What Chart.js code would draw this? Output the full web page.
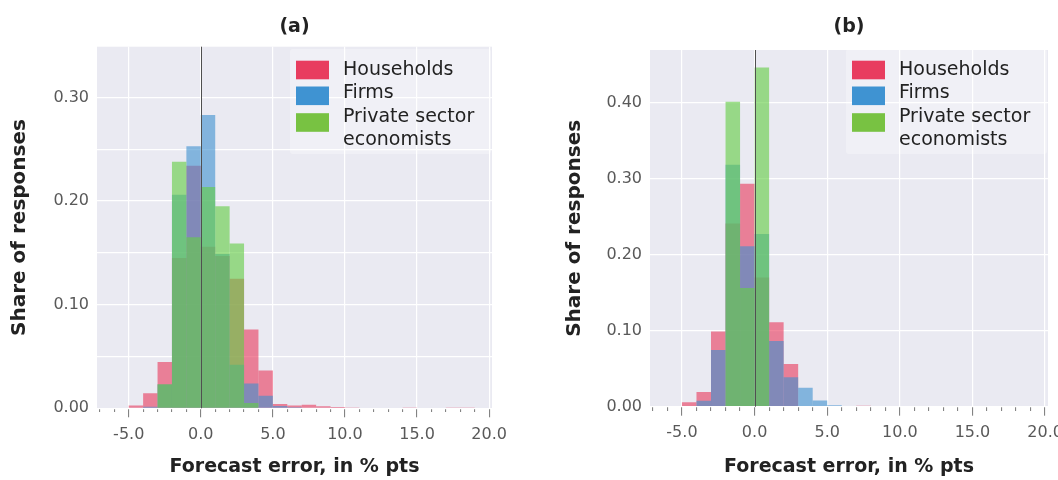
<!DOCTYPE html>
<html>
<head>
<meta charset="utf-8">
<title>Forecast errors</title>
<script src="https://cdn.jsdelivr.net/npm/chart.js@4.4.1/dist/chart.umd.min.js"></script>
<style>
  html, body { margin: 0; padding: 0; background: #fff; }
  #wrap { position: relative; width: 1058px; height: 480px; }
  .panel { position: absolute; top: 0; width: 529px; height: 480px; }
</style>
</head>
<body>
<div id="wrap">
  <div class="panel" style="left:0"><canvas id="chartA" width="529" height="480"></canvas></div>
  <div class="panel" style="left:529px"><canvas id="chartB" width="529" height="480"></canvas></div>
</div>
<script>
// Histogram bins are one point wide; each value is the share of responses in [start, start + 1)
const binStarts = [-5, -4, -3, -2, -1, 0, 1, 2, 3, 4, 5, 6, 7, 8, 9, 10, 11, 12, 13, 14, 15, 16, 17, 18];

const seriesNames = ["Households", "Firms", "Private sector economists"];

// panel (a)
const householdsA = [0.0026, 0.0145, 0.0446, 0.145, 0.234, 0.156, 0.147, 0.125, 0.076, 0.0365, 0.0042, 0.0026,
                     0.0035, 0.002, 0.0013, 0.0008, 0, 0, 0, 0.0008, 0, 0, 0.0008, 0.0008];
const firmsA = [0, 0.0016, 0.023, 0.206, 0.253, 0.283, 0.149, 0.042, 0.024, 0.012, 0.0023, 0.001,
                0, 0, 0, 0, 0, 0, 0, 0, 0, 0, 0, 0];
const economistsA = [0, 0, 0.0233, 0.238, 0.165, 0.2135, 0.195, 0.159, 0.005, 0, 0, 0,
                     0, 0, 0, 0, 0, 0, 0, 0, 0, 0, 0, 0];

// panel (b)
const householdsB = [0.0057, 0.0193, 0.0988, 0.241, 0.293, 0.170, 0.111, 0.056, 0, 0, 0, 0,
                     0.0013, 0, 0, 0, 0, 0, 0, 0, 0, 0, 0, 0];
const firmsB = [0, 0.0079, 0.0746, 0.318, 0.211, 0.227, 0.0865, 0.0386, 0.025, 0.0083, 0.0018, 0,
                0, 0, 0, 0, 0, 0, 0, 0, 0, 0, 0, 0];
const economistsB = [0, 0, 0, 0.401, 0.156, 0.446, 0, 0, 0, 0, 0, 0,
                     0, 0, 0, 0, 0, 0, 0, 0, 0, 0, 0, 0];

const xMajorEvery = 5;
const zeroError = 0;

Chart.defaults.font.family = "'DejaVu Sans', sans-serif";

const fills = ["rgba(232, 55, 90, 0.6)", "rgba(60, 143, 207, 0.6)", "rgba(100, 205, 70, 0.62)"];
const swatches = ["#e83d5f", "#3f93d2", "#78c242"];

// plot background, zero line and the legend in the upper right corner
const panelDecor = {
  id: "panelDecor",
  beforeDraw(chart) {
    const { ctx, chartArea: a } = chart;
    ctx.save();
    ctx.fillStyle = "#eaeaf2";
    ctx.fillRect(a.left, a.top, a.width, a.height);
    ctx.restore();
  },
  afterDatasetsDraw(chart) {
    const { ctx, chartArea: a, scales: { x } } = chart;
    const px = Math.round(x.getPixelForValue(zeroError)) + 0.5;
    ctx.save();
    ctx.strokeStyle = "#505050";
    ctx.lineWidth = 1;
    ctx.beginPath();
    ctx.moveTo(px, a.top);
    ctx.lineTo(px, a.bottom);
    ctx.stroke();

    // legend
    const right = a.right;
    ctx.fillStyle = "rgba(255, 255, 255, 0.3)";
    ctx.beginPath();
    ctx.roundRect(right - 202, 49, 201, 105, 3);
    ctx.fill();

    ctx.font = "19px 'DejaVu Sans', sans-serif";
    ctx.textBaseline = "middle";
    ctx.textAlign = "left";
    const lineH = 23.3;
    const swatchCenters = [70, 95.8, 122.5];
    let lineY = 70;
    chart.data.datasets.forEach((ds, i) => {
      ctx.fillStyle = ds.swatch;
      ctx.fillRect(right - 196, swatchCenters[i] - 9.3, 33, 18.6);
      // wrap long labels onto a second line
      const words = ds.label.split(" ");
      const lines = [];
      let cur = "";
      words.forEach(w => {
        const test = cur ? cur + " " + w : w;
        if (cur && ctx.measureText(test).width > 150) { lines.push(cur); cur = w; }
        else cur = test;
      });
      lines.push(cur);
      ctx.fillStyle = "#222";
      lines.forEach(t => {
        ctx.fillText(t, right - 149, lineY);
        lineY += lineH;
      });
    });
    ctx.restore();
  }
};

function series(label, values, idx) {
  return {
    label: label,
    data: binStarts.map((s, i) => ({ x: s + 0.5, y: values[i] })),
    backgroundColor: fills[idx],
    swatch: swatches[idx],
    order: 3 - idx
  };
}

function makePanel(canvasId, cfg) {
  return new Chart(document.getElementById(canvasId), {
    type: "bar",
    data: {
      datasets: [
        series(seriesNames[0], cfg.households, 0),
        series(seriesNames[1], cfg.firms, 1),
        series(seriesNames[2], cfg.economists, 2)
      ]
    },
    plugins: [panelDecor],
    options: {
      responsive: false,
      animation: false,
      events: [],
      layout: { padding: { left: 0, right: cfg.padRight, top: 0, bottom: 0 } },
      datasets: {
        bar: { grouped: false, barPercentage: 1, categoryPercentage: 1, borderWidth: 0, inflateAmount: 0 }
      },
      plugins: {
        legend: { display: false },
        tooltip: { enabled: false },
        title: {
          display: true,
          fullSize: false,
          text: cfg.title,
          color: "#222",
          font: { size: 19, weight: "bold" },
          padding: { top: 16, bottom: cfg.titleGap }
        }
      },
      scales: {
        x: {
          type: "linear",
          min: -7.2,
          max: 20.2,
          offset: false,
          border: { display: false },
          grid: {
            offset: false,
            color: c => (c.tick && c.tick.value % xMajorEvery === 0) ? "#ffffff" : "rgba(0,0,0,0)",
            lineWidth: 1.2,
            tickColor: "#777",
            tickLength: 9,
            tickWidth: 1,
            tickBorderDash: c => (c.tick && c.tick.value % xMajorEvery === 0) ? [] : [4, 30]
          },
          ticks: {
            stepSize: 1,
            includeBounds: false,
            autoSkip: false,
            maxRotation: 0,
            minRotation: 0,
            padding: 8,
            color: "#595959",
            font: { size: 16 },
            callback: v => (v % xMajorEvery === 0 ? v.toFixed(1) : "")
          },
          title: {
            display: true,
            text: "Forecast error, in % pts",
            color: "#222",
            font: { size: 19, weight: "bold" },
            padding: { top: 0, bottom: 1.6 }
          },
          afterFit: s => { s.height = cfg.xAxisHeight; s.paddingLeft = 0; s.paddingRight = 0; }
        },
        y: {
          min: 0,
          max: cfg.yMax,
          border: { display: false },
          grid: { color: "#ffffff", lineWidth: 1.2, drawTicks: false },
          ticks: {
            stepSize: cfg.yStep,
            includeBounds: false,
            padding: 8,
            color: "#595959",
            font: { size: 16 },
            callback: v => (Math.round(v * 100) % 10 === 0 ? v.toFixed(2) : "")
          },
          title: {
            display: true,
            text: "Share of responses",
            color: "#222",
            font: { size: 20, weight: "bold" },
            padding: { top: cfg.yTitlePad, bottom: 0 }
          },
          afterFit: s => { s.width = cfg.yAxisWidth; s.paddingTop = 0; s.paddingBottom = 0; }
        }
      }
    }
  });
}

makePanel("chartA", {
  title: "(a)",
  households: householdsA, firms: firmsA, economists: economistsA,
  yMax: 0.349, yStep: 0.05,
  padRight: 37, titleGap: 7.9, xAxisHeight: 71.7, yAxisWidth: 97, yTitlePad: 8
});

makePanel("chartB", {
  title: "(b)",
  households: householdsB, firms: firmsB, economists: economistsB,
  yMax: 0.469, yStep: 0.1,
  padRight: 10, titleGap: 11.2, xAxisHeight: 73.3, yAxisWidth: 121, yTitlePad: 34
});
</script>
</body>
</html>
